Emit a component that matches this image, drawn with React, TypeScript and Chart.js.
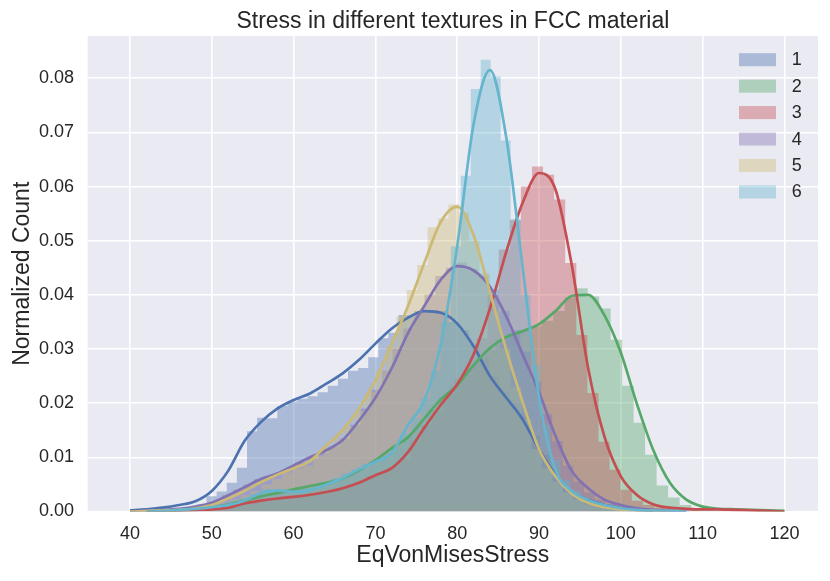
import { useEffect, useRef } from "react";
import { Chart, registerables } from "chart.js";

Chart.register(...registerables);

// series names, line colours and the 40% fills used by the histograms
const seriesNames = ["1", "2", "3", "4", "5", "6"];
const lineColors = ["#4c72b0", "#55a868", "#c44e52", "#8172b2", "#ccb974", "#64b5cd"];
const barColors = [
  "rgba(76, 114, 176, 0.4)",
  "rgba(85, 168, 104, 0.4)",
  "rgba(196, 78, 82, 0.4)",
  "rgba(129, 114, 178, 0.4)",
  "rgba(204, 185, 116, 0.4)",
  "rgba(100, 181, 205, 0.4)",
];

// x positions where the density curves were read
const kdeX = [38, 40, 42, 44, 46, 48, 50, 52, 54, 56, 58, 60, 62, 64, 66, 68, 70, 72, 74, 76, 78, 80,
  82, 84, 86, 88, 90, 92, 94, 96, 98, 100, 102, 104, 106, 108, 110, 112, 114, 116, 118, 120, 122];

const kde1 = [null, 0.0002, 0.0004, 0.0007, 0.0012, 0.0019, 0.0038, 0.0075, 0.013, 0.0165, 0.019, 0.0206,
  0.0218, 0.0236, 0.0255, 0.028, 0.031, 0.0338, 0.0358, 0.037, 0.0367, 0.0347, 0.0305, 0.025, 0.021, 0.017,
  0.0115, 0.0068, 0.0036, 0.0021, 0.0012, 0.0006, 0.0003, 0.0001, null, null, null, null, null, null, null, null, null];
const kde2 = [null, null, 0, 0.0001, 0.0002, 0.0004, 0.0008, 0.0013, 0.002, 0.0028, 0.0034, 0.0041, 0.0047,
  0.0053, 0.0061, 0.0076, 0.0095, 0.0117, 0.0137, 0.0172, 0.0207, 0.0233, 0.027, 0.0302, 0.0322, 0.0333, 0.0346,
  0.037, 0.0398, 0.04, 0.0362, 0.0293, 0.0197, 0.0112, 0.0053, 0.0022, 0.0009, 0.0005, 0.0004, 0.0003, 0.0002, 0.0001, null];
const kde3 = [null, null, 0, 0.0001, 0.0002, 0.0003, 0.0004, 0.0007, 0.0015, 0.002, 0.0024, 0.0027, 0.0031,
  0.0036, 0.0043, 0.0053, 0.0067, 0.008, 0.011, 0.0155, 0.0197, 0.0235, 0.029, 0.0375, 0.048, 0.057, 0.0625,
  0.0595, 0.0455, 0.0265, 0.0138, 0.0065, 0.003, 0.0013, 0.0007, 0.0005, 0.0004, 0.0004, 0.0003, 0.0002, 0.0001, 0, null];
const kde4 = [null, 0, 0.0001, 0.0003, 0.0005, 0.0009, 0.0016, 0.003, 0.0045, 0.006, 0.007, 0.0085, 0.01,
  0.0113, 0.0132, 0.0168, 0.021, 0.0265, 0.033, 0.038, 0.0428, 0.0453, 0.0445, 0.0415, 0.036, 0.029, 0.022,
  0.014, 0.0075, 0.0043, 0.0022, 0.0012, 0.0006, 0.0003, 0.0001, 0, null, null, null, null, null, null, null];
const kde5 = [null, 0, 0.0001, 0.0002, 0.0003, 0.0006, 0.0012, 0.0024, 0.0038, 0.0054, 0.0068, 0.008, 0.0093,
  0.0122, 0.015, 0.019, 0.0242, 0.031, 0.038, 0.046, 0.0535, 0.0563, 0.051, 0.0405, 0.0298, 0.0202, 0.0115,
  0.0065, 0.0033, 0.0016, 0.0008, 0.0004, 0.0002, 0.0001, 0, null, null, null, null, null, null, null, null];
const kde6 = [null, null, 0, 0.0001, 0.0003, 0.0005, 0.0008, 0.0012, 0.002, 0.0034, 0.0039, 0.0036, 0.004,
  0.005, 0.0062, 0.0078, 0.0092, 0.0108, 0.016, 0.0205, 0.031, 0.049, 0.0715, 0.0815, 0.069, 0.045, 0.021,
  0.0078, 0.0038, 0.0021, 0.0012, 0.0006, 0.0003, 0.0001, 0.0001, 0, null, null, null, null, null, null, null];

// histogram bins: left edge of the first bin, bin width, and bar heights
const binStart = [44.42, 46.77, 47.1, 43.5, 42.09, 45.05];
const binWidth = [1.235, 1.405, 1.356, 1.3, 1.27, 1.22];

const hist1 = [0.0002, 0.0004, 0.0008, 0.0013, 0.0028, 0.0037, 0.0053, 0.0081, 0.0148, 0.0173, 0.0172, 0.0195,
  0.0203, 0.0208, 0.0213, 0.022, 0.0232, 0.0245, 0.026, 0.0265, 0.0285, 0.032, 0.033, 0.0363, 0.036, 0.037,
  0.0372, 0.037, 0.035, 0.0335, 0.031, 0.0285, 0.025, 0.022, 0.02, 0.0175, 0.014, 0.0105, 0.007, 0.0045,
  0.0032, 0.0022, 0.0015, 0.0009, 0.0005, 0.0003, 0.0001];
const hist2 = [0.0003, 0.0005, 0.0008, 0.0011, 0.0016, 0.0021, 0.0027, 0.0031, 0.0035, 0.004, 0.0045, 0.0049,
  0.0052, 0.0058, 0.0068, 0.0078, 0.0092, 0.0108, 0.0123, 0.0138, 0.016, 0.0188, 0.0212, 0.0232, 0.0252,
  0.0278, 0.0298, 0.0318, 0.0328, 0.0336, 0.0342, 0.0352, 0.037, 0.0395, 0.0412, 0.0397, 0.0375, 0.0317,
  0.0232, 0.0164, 0.0105, 0.0048, 0.0026, 0.0012, 0.0006, 0.0003, 0.0002, 0.0001, 0.0001, 0.0001];
const hist3 = [0.0002, 0.0003, 0.0004, 0.0006, 0.001, 0.0016, 0.002, 0.0022, 0.0025, 0.0027, 0.003, 0.0033,
  0.0036, 0.004, 0.0046, 0.0055, 0.0065, 0.0072, 0.0082, 0.0098, 0.013, 0.016, 0.0185, 0.0215, 0.0245, 0.027,
  0.032, 0.04, 0.0484, 0.0538, 0.06, 0.0637, 0.0622, 0.0576, 0.0459, 0.0326, 0.0219, 0.0129, 0.0077, 0.004,
  0.002, 0.0012, 0.0007, 0.0004, 0.0003, 0.0002, 0.0001, 0.0001, 0.0001, 0.0001];
const hist4 = [0.0003, 0.0004, 0.0006, 0.0009, 0.0014, 0.002, 0.003, 0.004, 0.005, 0.006, 0.0065, 0.0072,
  0.008, 0.009, 0.0098, 0.0108, 0.012, 0.0135, 0.016, 0.019, 0.0225, 0.026, 0.03, 0.0338, 0.037, 0.04, 0.0435,
  0.045, 0.046, 0.0448, 0.0435, 0.041, 0.037, 0.0335, 0.0295, 0.024, 0.018, 0.013, 0.0085, 0.0055, 0.0035,
  0.0022, 0.0014, 0.0009, 0.0005, 0.0003, 0.0002, 0.0001, 0.0001, 0.0001];
const hist5 = [0.0001, 0.0002, 0.0002, 0.0003, 0.0005, 0.0008, 0.001, 0.0015, 0.0022, 0.003, 0.0038, 0.005,
  0.006, 0.0072, 0.008, 0.0085, 0.0103, 0.0118, 0.0135, 0.0158, 0.0185, 0.022, 0.026, 0.0305, 0.036, 0.0409,
  0.0455, 0.0525, 0.0541, 0.0567, 0.0552, 0.05, 0.044, 0.037, 0.03, 0.023, 0.017, 0.0115, 0.008, 0.0055,
  0.0035, 0.0022, 0.0013, 0.0008, 0.0005, 0.0003, 0.0002, 0.0001, 0.0001, 0.0001];
const hist6 = [0.0003, 0.0004, 0.0005, 0.0007, 0.001, 0.0014, 0.002, 0.0026, 0.0033, 0.0042, 0.0038, 0.0035,
  0.004, 0.0043, 0.0047, 0.0055, 0.0062, 0.007, 0.0078, 0.0088, 0.0092, 0.0102, 0.0118, 0.0145, 0.0172, 0.021,
  0.026, 0.035, 0.049, 0.062, 0.078, 0.0834, 0.0803, 0.0685, 0.054, 0.04, 0.027, 0.016, 0.0095, 0.0058, 0.0038,
  0.0025, 0.0016, 0.001, 0.0006, 0.0004, 0.0002, 0.0001, 0.0001, 0.0001];

const kdeValues = [kde1, kde2, kde3, kde4, kde5, kde6];
const histValues = [hist1, hist2, hist3, hist4, hist5, hist6];

const xTicks = [40, 50, 60, 70, 80, 90, 100, 110, 120];
const yTicks = [0, 0.01, 0.02, 0.03, 0.04, 0.05, 0.06, 0.07, 0.08];

const FONT = "'Liberation Sans', Arial, sans-serif";
const TEXT = "#262626";

// grey plot background, title and the frameless legend inside the axes
const decorations = {
  id: "decorations",
  beforeDraw(chart: Chart) {
    const { ctx, chartArea: a } = chart;
    ctx.save();
    ctx.fillStyle = "#ffffff";
    ctx.fillRect(0, 0, chart.width, chart.height);
    ctx.fillStyle = "#eaeaf2";
    ctx.fillRect(a.left, a.top, a.right - a.left, a.bottom - a.top);
    ctx.restore();
  },
  afterDraw(chart: Chart) {
    const { ctx, chartArea: a } = chart;
    ctx.save();
    ctx.fillStyle = TEXT;
    ctx.textBaseline = "middle";
    ctx.textAlign = "center";
    ctx.font = `23px ${FONT}`;
    ctx.fillText("Stress in different textures in FCC material", (a.left + a.right) / 2, 21.7);

    ctx.textAlign = "left";
    ctx.font = `18px ${FONT}`;
    seriesNames.forEach((name, i) => {
      const y = a.top + 23.7 + i * 26.45;
      ctx.fillStyle = barColors[i];
      ctx.fillRect(a.right - 79, y - 6.5, 37, 13);
      ctx.fillStyle = TEXT;
      ctx.fillText(name, a.right - 26.3, y + 0.5);
    });
    ctx.restore();
  },
};

const App = () => {
  const canvasRef = useRef<HTMLCanvasElement>(null);

  useEffect(() => {
    if (!canvasRef.current) return;

    // matplotlib puts every line above every patch, later patches above earlier ones
    const datasets: any[] = [];
    seriesNames.forEach((name, i) => {
      const heights = histValues[i];
      const edges = heights.map((h, k) => ({ x: binStart[i] + k * binWidth[i], y: h }));
      edges.push({ x: binStart[i] + heights.length * binWidth[i], y: 0 });
      datasets.push({
        label: name,
        data: edges,
        stepped: "before",
        fill: "origin",
        backgroundColor: barColors[i],
        borderColor: "rgba(0,0,0,0)",
        borderWidth: 0,
        pointRadius: 0,
        order: 12 - i,
      });
      datasets.push({
        label: "kde " + name,
        data: kdeX.map((x, k) => ({ x, y: kdeValues[i][k] })),
        borderColor: lineColors[i],
        borderWidth: 2.7,
        fill: false,
        pointRadius: 0,
        cubicInterpolationMode: "monotone",
        order: 6 - i,
      });
    });

    const chart = new Chart(canvasRef.current, {
      type: "line",
      data: { datasets },
      plugins: [decorations],
      options: {
        animation: false,
        responsive: true,
        maintainAspectRatio: false,
        layout: { padding: { top: 36, right: 12, left: 0, bottom: 0 } },
        plugins: {
          legend: { display: false },
          title: { display: false },
          tooltip: { enabled: false },
        },
        scales: {
          x: {
            type: "linear",
            min: 34.83,
            max: 124.1,
            afterFit: (scale: any) => {
              scale.height = 69.5;
            },
            afterBuildTicks: (scale: any) => {
              scale.ticks = xTicks.map((value) => ({ value }));
            },
            ticks: {
              font: { family: FONT, size: 18 },
              color: TEXT,
              padding: 12,
              callback: (v: any) => String(v),
            },
            grid: { color: "#ffffff", lineWidth: 1.6, drawTicks: false },
            border: { display: false },
            title: {
              display: true,
              text: "EqVonMisesStress",
              font: { family: FONT, size: 23 },
              color: TEXT,
              padding: { top: 0, bottom: 11.7 },
            },
          },
          y: {
            type: "linear",
            min: 0,
            max: 0.0878,
            afterFit: (scale: any) => {
              scale.width = 87.7;
            },
            afterBuildTicks: (scale: any) => {
              scale.ticks = yTicks.map((value) => ({ value }));
            },
            ticks: {
              font: { family: FONT, size: 18 },
              color: TEXT,
              padding: 13.7,
              callback: (v: any) => Number(v).toFixed(2),
            },
            grid: { color: "#ffffff", lineWidth: 1.6, drawTicks: false },
            border: { display: false },
            title: {
              display: true,
              text: "Normalized Count",
              font: { family: FONT, size: 23 },
              color: TEXT,
              padding: { top: 8.7, bottom: 0 },
            },
          },
        },
      },
    });

    return () => {
      chart.destroy();
    };
  }, []);

  return (
    <div style={{ position: "absolute", left: 0, top: 0, width: "830px", height: "581px" }}>
      <canvas ref={canvasRef}></canvas>
    </div>
  );
};

export default App;
